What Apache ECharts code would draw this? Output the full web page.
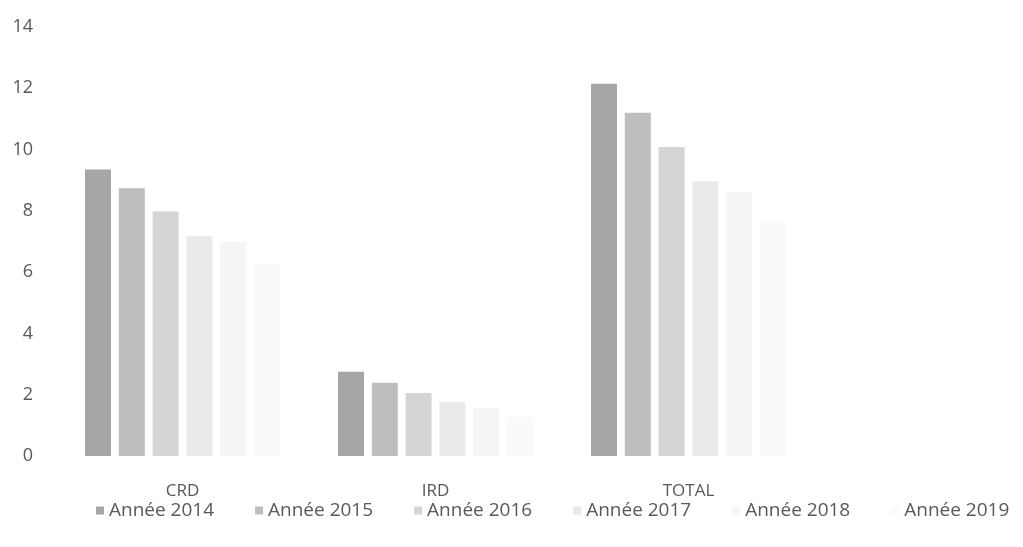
<!DOCTYPE html>
<html>
<head>
<meta charset="utf-8">
<script src="https://cdn.jsdelivr.net/npm/echarts@6/dist/echarts.min.js"></script>
<style>
  html, body { margin: 0; padding: 0; background: #ffffff; }
  #chart { width: 1023px; height: 547px; }
</style>
</head>
<body>
<div id="chart"></div>
<script>
// Categories on the x axis
const categories = ['CRD', 'IRD', 'TOTAL'];

// One series per year
const seriesNames = ['Année 2014', 'Année 2015', 'Année 2016', 'Année 2017', 'Année 2018', 'Année 2019'];
const values2014 = [9.35, 2.75, 12.15];
const values2015 = [8.74, 2.39, 11.2];
const values2016 = [7.98, 2.06, 10.08];
const values2017 = [7.17, 1.77, 8.97];
const values2018 = [6.98, 1.56, 8.6];
const values2019 = [6.28, 1.28, 7.63];
const seriesValues = [values2014, values2015, values2016, values2017, values2018, values2019];

// Gray ramp, fading with each year
const seriesColors = ['#a6a6a6', '#bebebe', '#d5d5d5', '#eaeaea', '#f5f5f5', '#fafafa'];

// Value axis ticks
const yMin = 0, yMax = 14, yStep = 2;

const textColor = '#595959';
const fontFamily = '"Open Sans", "Noto Sans", sans-serif';

const chart = echarts.init(document.getElementById('chart'), null, { renderer: 'canvas' });

chart.setOption({
  backgroundColor: '#ffffff',
  animation: false,
  textStyle: { fontFamily: fontFamily },
  grid: { left: 56, right: 208, top: 27, bottom: 91, containLabel: false },
  legend: {
    data: seriesNames,
    bottom: 22,
    left: 91,
    itemWidth: 8,
    itemHeight: 8,
    itemGap: 41,
    icon: 'rect',
    textStyle: { color: textColor, fontSize: 19, fontFamily: fontFamily }
  },
  xAxis: {
    type: 'category',
    data: categories,
    axisLine: { show: false },
    axisTick: { show: false },
    axisLabel: { color: textColor, fontSize: 17, margin: 27, fontFamily: fontFamily }
  },
  yAxis: {
    type: 'value',
    min: yMin,
    max: yMax,
    interval: yStep,
    axisLine: { show: false },
    axisTick: { show: false },
    splitLine: { show: false },
    axisLabel: { color: textColor, fontSize: 18, margin: 23, fontFamily: fontFamily }
  },
  series: seriesNames.map((name, i) => ({
    name: name,
    type: 'bar',
    data: seriesValues[i],
    barWidth: 26,
    barGap: '30%',
    itemStyle: { color: seriesColors[i] }
  }))
});
</script>
</body>
</html>
